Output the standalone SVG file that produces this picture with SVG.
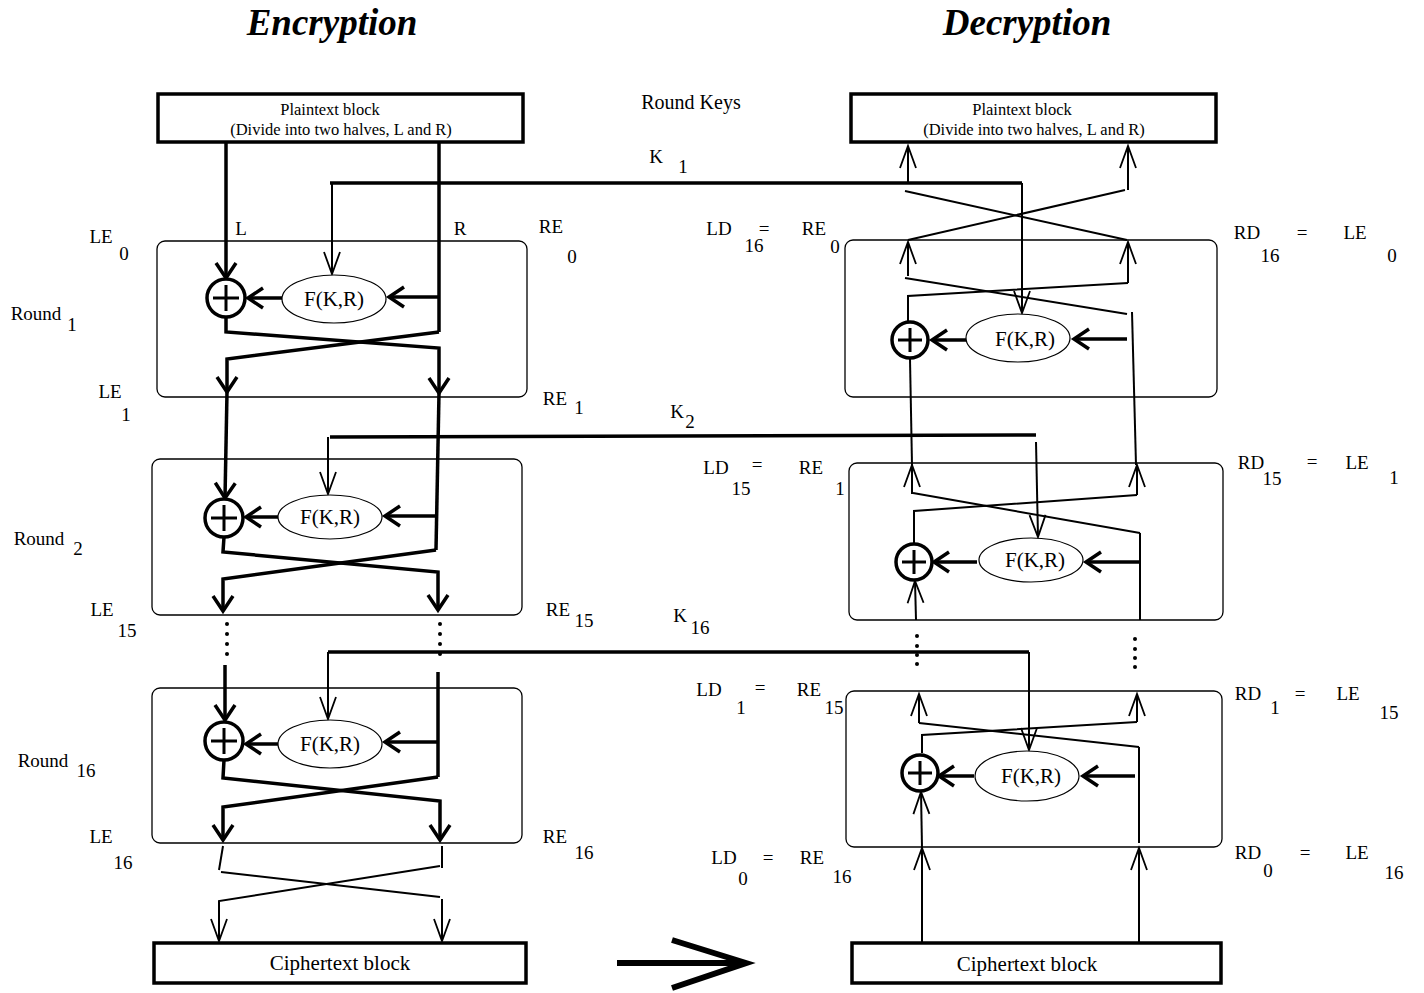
<svg xmlns="http://www.w3.org/2000/svg" width="1424" height="993" viewBox="0 0 1424 993">
<style>
text{font-family:"Liberation Serif","Times New Roman",serif;fill:#000}
.t{font-size:19px;text-anchor:middle}
.ti{font-size:37px;font-weight:bold;font-style:italic;text-anchor:middle}
.pb{font-size:16.5px;text-anchor:middle}
.cb{font-size:21px;text-anchor:middle}
.fk{font-size:21px;text-anchor:middle}
.blk{fill:#fff;stroke:#000;stroke-width:3.5}
.box{fill:none;stroke:#000;stroke-width:1.3}
.xor{fill:#fff;stroke:#000;stroke-width:3.5}
.xp{stroke:#000;stroke-width:3;fill:none}
.ell{fill:#fff;stroke:#000;stroke-width:1.2}
.tk{fill:none;stroke:#000;stroke-width:3.5}
.tn{fill:none;stroke:#000;stroke-width:2}
.ah{marker-end:url(#ak)}
.an{marker-end:url(#an)}
</style>
<defs>
<marker id="ak" viewBox="-24 -14 28 28" refX="0" refY="0" markerWidth="28" markerHeight="28" markerUnits="userSpaceOnUse" orient="auto">
<path d="M-15,-10 L0,0 L-15,10" fill="none" stroke="#000" stroke-width="3.5"/>
</marker>
<marker id="an" viewBox="-28 -12 32 24" refX="0" refY="0" markerWidth="32" markerHeight="24" markerUnits="userSpaceOnUse" orient="auto">
<path d="M-22,-8 L0,0 L-22,8" fill="none" stroke="#000" stroke-width="1.8"/>
</marker>
</defs>
<rect width="1424" height="993" fill="#fff"/>

<g id="titles">
<text class="ti" x="332" y="35">Encryption</text>
<text class="ti" x="1027" y="35">Decryption</text>
<text class="t" x="691" y="109" style="font-size:20px">Round Keys</text>
</g>

<g id="connectors">
<!-- Encryption round 1 -->
<line class="tk ah" x1="226" y1="142" x2="226" y2="278"/>
<line class="tk" x1="439" y1="142" x2="439" y2="332"/>
<line class="tk ah" x1="439" y1="297" x2="389" y2="297"/>
<line class="tk ah" x1="282" y1="298" x2="248" y2="298"/>
<polyline class="tk ah" points="226,317 226,332 439,348 439,393"/>
<polyline class="tk ah" points="439,332 227,359 227,392"/>
<line class="tk" x1="439" y1="393" x2="436" y2="550"/>
<line class="tk ah" x1="227" y1="392" x2="225" y2="498"/>
<!-- K1 -->
<line class="tk" x1="330" y1="183" x2="1022" y2="183"/>
<line class="tn an" x1="332" y1="183" x2="332" y2="274"/>
<line class="tn an" x1="1022" y1="183" x2="1022" y2="313"/>
<!-- Encryption round 2 -->
<line class="tk" x1="330" y1="437" x2="1036" y2="435"/>
<line class="tn an" x1="328" y1="437" x2="328" y2="494"/>
<line class="tk ah" x1="436" y1="516" x2="385" y2="516"/>
<line class="tk ah" x1="278" y1="517" x2="246" y2="517"/>
<polyline class="tk ah" points="224,537 223,552 438,572 438,610"/>
<polyline class="tk ah" points="436,550 223,579 223,611"/>
<!-- Encryption round 16 -->
<line class="tk" x1="328" y1="652" x2="1029" y2="652"/>
<line class="tn an" x1="328" y1="652" x2="328" y2="719"/>
<line class="tk ah" x1="225" y1="665" x2="225" y2="720"/>
<line class="tk" x1="438" y1="672" x2="438" y2="777"/>
<line class="tk ah" x1="438" y1="742" x2="385" y2="742"/>
<line class="tk ah" x1="278" y1="744" x2="246" y2="744"/>
<polyline class="tk ah" points="224,760 223,778 440,801 440,840"/>
<polyline class="tk ah" points="438,777 223,807 223,840"/>
<line class="tn" x1="223" y1="846" x2="219" y2="870"/>
<line class="tn" x1="442" y1="846" x2="442" y2="868"/>
<line class="tn" x1="221" y1="872" x2="440" y2="897"/>
<polyline class="tn an" points="440,866 219,901 219,941"/>
<line class="tn an" x1="442" y1="899" x2="442" y2="941"/>
<!-- Decryption round 1 -->
<line class="tn an" x1="908" y1="183" x2="908" y2="146"/>
<line class="tn an" x1="1128" y1="190" x2="1128" y2="146"/>
<line class="tn" x1="905" y1="191" x2="1127" y2="240"/>
<line class="tn" x1="1125" y1="190" x2="908" y2="240"/>
<line class="tn an" x1="908" y1="276" x2="908" y2="242"/>
<line class="tn an" x1="1128" y1="283" x2="1128" y2="242"/>
<line class="tn" x1="905" y1="278" x2="1127" y2="314"/>
<polyline class="tn" points="1128,283 908,296 908,322"/>
<line class="tn" x1="1132" y1="312" x2="1136" y2="465"/>
<line class="tk ah" x1="1127" y1="339" x2="1074" y2="339"/>
<line class="tk ah" x1="967" y1="340" x2="932" y2="340"/>
<line class="tn" x1="910" y1="359" x2="912" y2="465"/>
<!-- Decryption round 2 -->
<line class="tn an" x1="1036" y1="442" x2="1038" y2="537"/>
<line class="tn an" x1="912" y1="494" x2="912" y2="465"/>
<line class="tn an" x1="1137" y1="495" x2="1137" y2="465"/>
<line class="tn" x1="913" y1="493" x2="1140" y2="533"/>
<polyline class="tn" points="1137,495 914,511 914,544"/>
<line class="tn" x1="1140" y1="533" x2="1140" y2="620"/>
<line class="tk ah" x1="1140" y1="562" x2="1086" y2="562"/>
<line class="tk ah" x1="977" y1="562" x2="934" y2="562"/>
<line class="tn an" x1="916" y1="620" x2="915" y2="581"/>
<!-- Decryption round 3 -->
<line class="tn an" x1="1029" y1="652" x2="1029" y2="750"/>
<line class="tn an" x1="919" y1="723" x2="919" y2="694"/>
<line class="tn an" x1="1137" y1="722" x2="1137" y2="694"/>
<line class="tn" x1="919" y1="723" x2="1139" y2="747"/>
<polyline class="tn" points="1137,722 922,735 922,753"/>
<line class="tn" x1="1139" y1="747" x2="1139" y2="843"/>
<line class="tk ah" x1="1135" y1="776" x2="1083" y2="776"/>
<line class="tk ah" x1="974" y1="776" x2="939" y2="776"/>
<line class="tn an" x1="922" y1="942" x2="922" y2="848"/>
<line class="tn an" x1="922" y1="848" x2="921" y2="792"/>
<line class="tn an" x1="1139" y1="942" x2="1139" y2="848"/>
<!-- big arrow -->
<line x1="617" y1="963" x2="740" y2="963" stroke="#000" stroke-width="6"/>
<polyline points="672,940 746,963 672,988" fill="none" stroke="#000" stroke-width="6"/>
</g>

<g id="dots">
<circle cx="227" cy="624" r="2"/><circle cx="227" cy="634" r="2"/><circle cx="227" cy="644" r="2"/><circle cx="227" cy="654" r="2"/>
<circle cx="440" cy="624" r="2"/><circle cx="440" cy="634" r="2"/><circle cx="440" cy="644" r="2"/><circle cx="440" cy="654" r="2"/>
<circle cx="917" cy="636" r="2"/><circle cx="917" cy="646" r="2"/><circle cx="917" cy="655" r="2"/><circle cx="917" cy="664" r="2"/>
<circle cx="1135" cy="639" r="2"/><circle cx="1135" cy="649" r="2"/><circle cx="1135" cy="658" r="2"/><circle cx="1135" cy="667" r="2"/>
</g>

<g id="enc-plaintext">
<rect class="blk" x="158" y="94" width="365" height="48"/>
<text class="pb" x="330" y="115">Plaintext block</text>
<text class="pb" x="341" y="135">(Divide into two halves, L and R)</text>
</g>
<g id="dec-plaintext">
<rect class="blk" x="851" y="94" width="365" height="48"/>
<text class="pb" x="1022" y="115">Plaintext block</text>
<text class="pb" x="1034" y="135">(Divide into two halves, L and R)</text>
</g>

<g id="enc-round1">
<rect class="box" x="157" y="241" width="370" height="156" rx="8"/>
</g>
<g id="enc-round2">
<rect class="box" x="152" y="459" width="370" height="156" rx="8"/>
</g>
<g id="enc-round16">
<rect class="box" x="152" y="688" width="370" height="155" rx="8"/>
</g>
<g id="dec-round1">
<rect class="box" x="845" y="240" width="372" height="157" rx="8"/>
</g>
<g id="dec-round2">
<rect class="box" x="849" y="463" width="374" height="157" rx="8"/>
</g>
<g id="dec-round3">
<rect class="box" x="846" y="691" width="376" height="156" rx="8"/>
</g>

<g id="enc-xor1"><circle class="xor" cx="226" cy="298" r="19"/><path class="xp" d="M213,298H239M226,285V311"/></g>
<g id="enc-xor2"><circle class="xor" cx="224" cy="518" r="19"/><path class="xp" d="M211,518H237M224,505V531"/></g>
<g id="enc-xor3"><circle class="xor" cx="224" cy="741" r="19"/><path class="xp" d="M211,741H237M224,728V754"/></g>
<g id="dec-xor1"><circle class="xor" cx="910" cy="340" r="18"/><path class="xp" d="M898,340H922M910,328V352"/></g>
<g id="dec-xor2"><circle class="xor" cx="914" cy="562" r="18"/><path class="xp" d="M902,562H926M914,550V574"/></g>
<g id="dec-xor3"><circle class="xor" cx="920" cy="773" r="18"/><path class="xp" d="M908,773H932M920,761V785"/></g>

<g id="enc-f1"><ellipse class="ell" cx="334" cy="299" rx="52" ry="24"/><text class="fk" x="334" y="306">F(K,R)</text></g>
<g id="enc-f2"><ellipse class="ell" cx="330" cy="517" rx="52" ry="22"/><text class="fk" x="330" y="524">F(K,R)</text></g>
<g id="enc-f3"><ellipse class="ell" cx="330" cy="744" rx="52" ry="24"/><text class="fk" x="330" y="751">F(K,R)</text></g>
<g id="dec-f1"><ellipse class="ell" cx="1018" cy="338" rx="52" ry="24"/><text class="fk" x="1025" y="346">F(K,R)</text></g>
<g id="dec-f2"><ellipse class="ell" cx="1031" cy="560" rx="52" ry="22"/><text class="fk" x="1035" y="567">F(K,R)</text></g>
<g id="dec-f3"><ellipse class="ell" cx="1027" cy="776" rx="52" ry="25"/><text class="fk" x="1031" y="783">F(K,R)</text></g>

<g id="enc-ciphertext">
<rect class="blk" x="154" y="943" width="372" height="40"/>
<text class="cb" x="340" y="970">Ciphertext block</text>
</g>
<g id="dec-ciphertext">
<rect class="blk" x="852" y="943" width="369" height="40"/>
<text class="cb" x="1027" y="971">Ciphertext block</text>
</g>

<g id="labels">
<text class="t" x="101" y="243">LE</text><text class="t" x="124" y="260">0</text>
<text class="t" x="241" y="235">L</text><text class="t" x="460" y="235">R</text>
<text class="t" x="551" y="233">RE</text><text class="t" x="572" y="263">0</text>
<text class="t" x="36" y="320">Round</text><text class="t" x="72" y="331">1</text>
<text class="t" x="110" y="398">LE</text><text class="t" x="126" y="421">1</text>
<text class="t" x="555" y="405">RE</text><text class="t" x="579" y="414">1</text>
<text class="t" x="656" y="163">K</text><text class="t" x="683" y="173">1</text>
<text class="t" x="677" y="418">K</text><text class="t" x="690" y="428">2</text>
<text class="t" x="39" y="545">Round</text><text class="t" x="78" y="555">2</text>
<text class="t" x="102" y="616">LE</text><text class="t" x="127" y="637">15</text>
<text class="t" x="558" y="616">RE</text><text class="t" x="584" y="627">15</text>
<text class="t" x="680" y="622">K</text><text class="t" x="700" y="634">16</text>
<text class="t" x="43" y="767">Round</text><text class="t" x="86" y="777">16</text>
<text class="t" x="101" y="843">LE</text><text class="t" x="123" y="869">16</text>
<text class="t" x="555" y="843">RE</text><text class="t" x="584" y="859">16</text>

<text class="t" x="719" y="235">LD</text><text class="t" x="754" y="252">16</text><text class="t" x="764" y="235">=</text><text class="t" x="814" y="235">RE</text><text class="t" x="835" y="253">0</text>
<text class="t" x="1247" y="239">RD</text><text class="t" x="1270" y="262">16</text><text class="t" x="1302" y="239">=</text><text class="t" x="1355" y="239">LE</text><text class="t" x="1392" y="262">0</text>

<text class="t" x="716" y="474">LD</text><text class="t" x="741" y="495">15</text><text class="t" x="757" y="471">=</text><text class="t" x="811" y="474">RE</text><text class="t" x="840" y="495">1</text>
<text class="t" x="1251" y="469">RD</text><text class="t" x="1272" y="485">15</text><text class="t" x="1312" y="468">=</text><text class="t" x="1357" y="469">LE</text><text class="t" x="1394" y="484">1</text>

<text class="t" x="709" y="696">LD</text><text class="t" x="741" y="714">1</text><text class="t" x="760" y="694">=</text><text class="t" x="809" y="696">RE</text><text class="t" x="834" y="714">15</text>
<text class="t" x="1248" y="700">RD</text><text class="t" x="1275" y="714">1</text><text class="t" x="1300" y="700">=</text><text class="t" x="1348" y="700">LE</text><text class="t" x="1389" y="719">15</text>

<text class="t" x="724" y="864">LD</text><text class="t" x="743" y="885">0</text><text class="t" x="768" y="864">=</text><text class="t" x="812" y="864">RE</text><text class="t" x="842" y="883">16</text>
<text class="t" x="1248" y="859">RD</text><text class="t" x="1268" y="877">0</text><text class="t" x="1305" y="859">=</text><text class="t" x="1357" y="859">LE</text><text class="t" x="1394" y="879">16</text>
</g>
</svg>
